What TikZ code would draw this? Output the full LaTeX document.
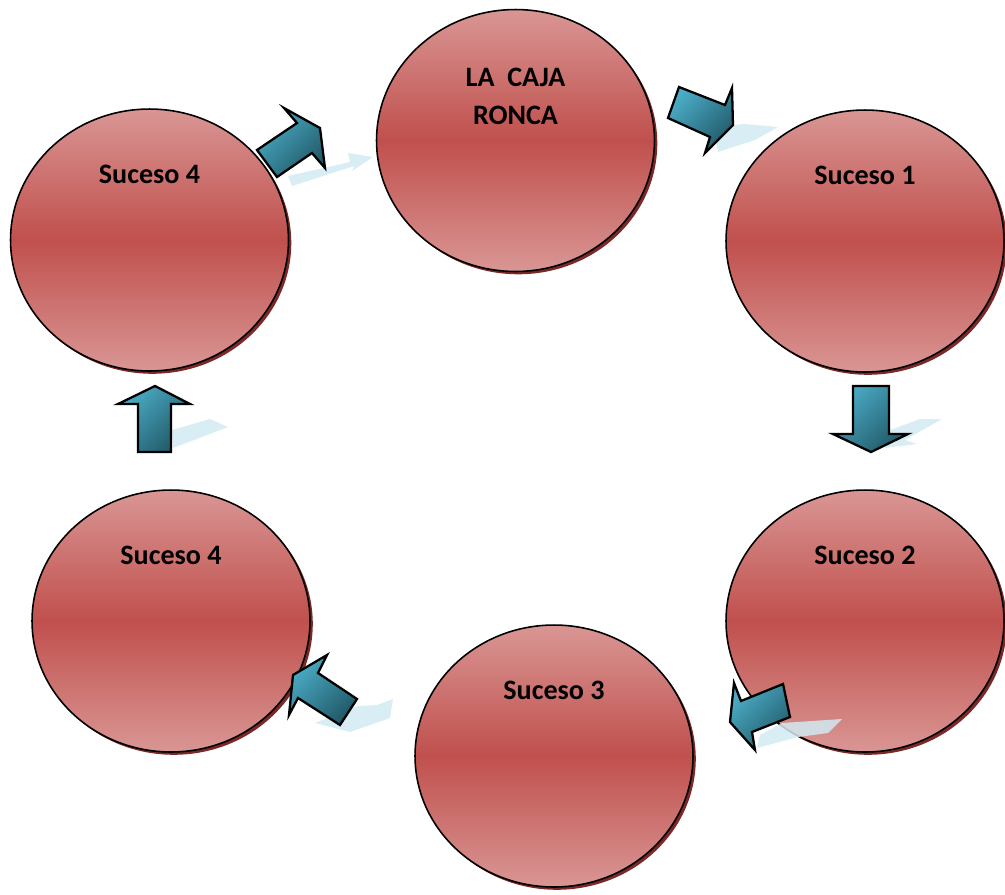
\documentclass[tikz,border=0pt]{standalone}
\usepackage{fontspec}
\setmainfont{Carlito}
\usepackage{tikz}
\usetikzlibrary{shapes.geometric,shadows,calc}
\definecolor{rosaC}{HTML}{D99694}
\definecolor{rojoC}{HTML}{C0504D}
\definecolor{sombraC}{HTML}{7A2926}
\definecolor{azulC}{HTML}{4BACC6}
\definecolor{azulO}{HTML}{215968}
\definecolor{palido}{HTML}{D2EAF2}
\tikzset{
  suceso/.style={ellipse, draw=black, line width=0.9pt, minimum width=5.56cm, minimum height=5.24cm,
                 inner sep=0pt, top color=rosaC, bottom color=rosaC, middle color=rojoC,
                 drop shadow={shadow xshift=1.6pt, shadow yshift=-1.6pt, fill=sombraC, opacity=1}},
  rotulo/.style={font=\fontsize{16}{21.5}\selectfont\bfseries, align=center, inner sep=0pt},
  bloque/.style={draw=black, line width=1.3pt, line join=miter, top color=azulC, bottom color=azulO,
                 shading angle=45},
  reflejo/.style={fill=palido, fill opacity=0.85},
}

\begin{document}
\begin{tikzpicture}[x=0.02cm, y=-0.02cm]
    \useasboundingbox (0,0) rectangle (1005,894);
    % Sucesos
    \node[suceso] (caja) at (515.5,140.5) {};
    \node[suceso] (s1) at (865,241) {};
    \node[suceso] (s2) at (865,621) {};
    \node[suceso] (s3) at (554,756) {};
    \node[suceso] (s4b) at (171,621) {};
    \node[suceso] (s4a) at (149.5,240) {};
    % Rotulos
    \node[rotulo] (tcaja) at ($(caja.north)+(0,88)$) {LA~~CAJA\\RONCA};
    \node[rotulo] (t1) at ($(s1.north)+(0,66)$) {Suceso 1};
    \node[rotulo] (t2) at ($(s2.north)+(0,66)$) {Suceso 2};
    \node[rotulo] (t3) at ($(s3.north)+(0,66)$) {Suceso 3};
    \node[rotulo] (t4b) at ($(s4b.north)+(0,66)$) {Suceso 4};
    \node[rotulo] (t4a) at ($(s4a.north)+(0,66)$) {Suceso 4};
    % Reflejos
    \fill[reflejo] (288,176) -- (350,162) -- (348,153) -- (373,157) -- (352,171) -- (354,166) -- (292,186) -- cycle;
    \fill[reflejo] (713,127) -- (745,124) -- (778,127) -- (755,140) -- (718,152) -- cycle;
    \fill[reflejo] (890,430) -- (920,419) -- (942,419) -- (905,440) -- (917,444) -- (885,448) -- cycle;
    \fill[reflejo] (760,735) -- (782,723) -- (842,719) -- (828,733) -- (798,737) -- (757,748) -- cycle;
    \fill[reflejo] (315,723) -- (358,706) -- (377,705) -- (393,699) -- (390,718) -- (350,732) -- cycle;
    \fill[reflejo] (172,430) -- (210,419) -- (228,427) -- (173,448) -- cycle;
    % Flechas
    \draw[bloque] (257,150) -- (297,123) -- (284,108) -- (320,128) -- (325,168) -- (312,153) -- (277,177) -- cycle;
    \draw[bloque] (679,87) -- (725,105) -- (732,88) -- (733,125) -- (705,153) -- (710,137) -- (668,118) -- cycle;
    \draw[bloque] (853,386) -- (889,386) -- (889,434) -- (908,434) -- (871,452) -- (833,434) -- (853,434) -- cycle;
    \draw[bloque] (734,683) -- (741,701) -- (783,684) -- (790,717) -- (752,732) -- (755,750) -- (730,722) -- cycle;
    \draw[bloque] (327,655) -- (318,673) -- (357,699) -- (340,725) -- (298,698) -- (289,715) -- (293,675) -- cycle;
    \draw[bloque] (155,386) -- (190,404) -- (171,404) -- (171,452) -- (138,452) -- (138,404) -- (118,404) -- cycle;
\end{tikzpicture}
\end{document}
